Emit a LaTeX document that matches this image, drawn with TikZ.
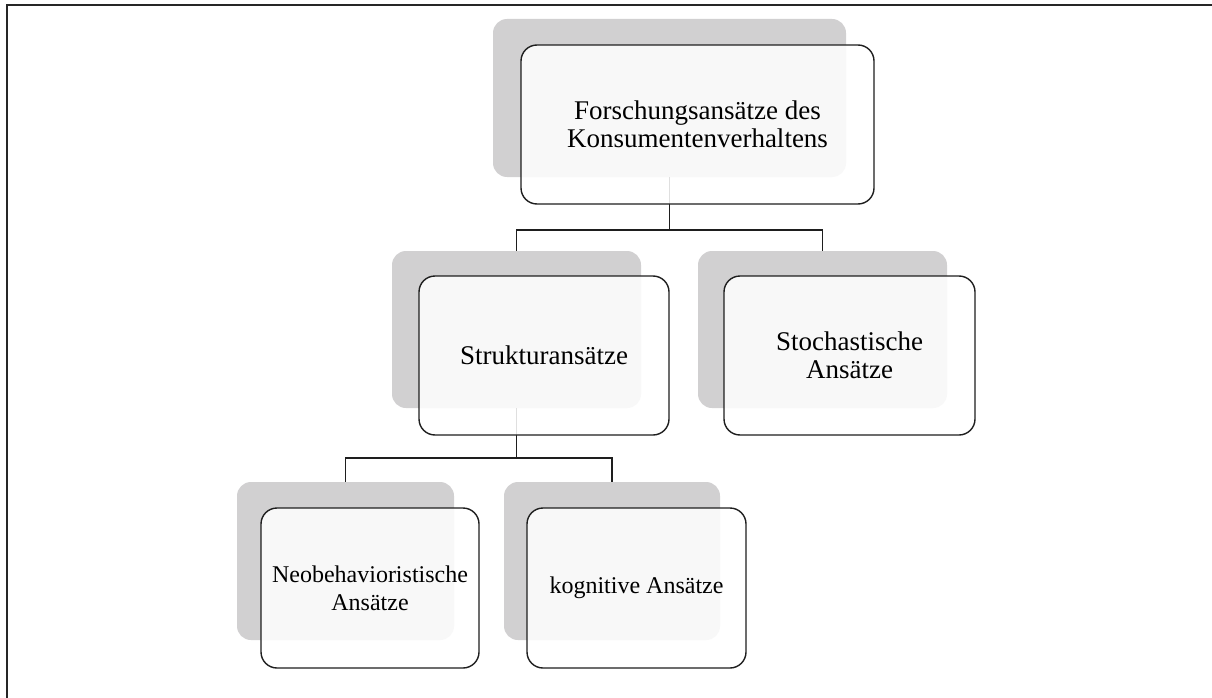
\documentclass[tikz,border=0pt]{standalone}
\usepackage{fontspec}
\setmainfont{Liberation Serif}
\definecolor{backcard}{RGB}{209,208,209}
\definecolor{edgeline}{RGB}{30,30,30}
\tikzset{
  backbox/.style={rectangle, rounded corners=14pt, fill=backcard, draw=none,
    inner sep=0pt, outer sep=0pt},
  frontbox/.style={rectangle, rounded corners=16pt, draw=edgeline, line width=1.4pt,
    fill=white, fill opacity=0.86, text opacity=1, align=center,
    inner sep=0pt, outer sep=0pt, minimum height=159pt},
  bigtext/.style={font=\fontsize{27}{27.5}\selectfont},
  smalltext/.style={font=\fontsize{24}{28}\selectfont},
  link/.style={draw=edgeline, line width=1.4pt},
}
\begin{document}
\begin{tikzpicture}[x=1pt,y=-1pt]
\useasboundingbox (0,0) rectangle (1212,698);

% outer frame
\draw[line width=2pt, black!85] (7,699) -- (7,5) -- (1213,5);

% back cards
\node[backbox, minimum width=353pt, minimum height=158pt] (g0) at (669.5,98) {};
\node[backbox, minimum width=249pt, minimum height=157pt] (g1) at (516.5,329.5) {};
\node[backbox, minimum width=249pt, minimum height=157pt] (g2) at (822.5,329.5) {};
\node[backbox, minimum width=217pt, minimum height=158pt] (g3) at (345.5,561) {};
\node[backbox, minimum width=216pt, minimum height=158pt] (g4) at (612,561) {};

% tree connectors
\coordinate (j0) at (669.5,230);
\coordinate (j1) at (516.5,458);
\draw[link] (g0.south) -- (j0);
\draw[link] (j0) -| (g1.north);
\draw[link] (j0) -| (g2.north);
\draw[link] (g1.south) -- (j1);
\draw[link] (j1) -| (g3.north);
\draw[link] (j1) -| (g4.north);

% front cards
\node[frontbox, bigtext, minimum width=353pt] (f0) at (697.5,124.5)
  {Forschungsansätze des\\Konsumentenverhaltens};
\node[frontbox, bigtext, minimum width=250pt] (f1) at (544,355.5) {Strukturansätze};
\node[frontbox, bigtext, minimum width=251pt] (f2) at (849.5,355.5) {Stochastische\\Ansätze};
\node[frontbox, smalltext, minimum width=218pt, minimum height=160pt] (f3) at (370,588)
  {Neobehavioristische\\Ansätze};
\node[frontbox, smalltext, minimum width=219pt, minimum height=160pt] (f4) at (636.5,588)
  {kognitive Ansätze};
\end{tikzpicture}
\end{document}
